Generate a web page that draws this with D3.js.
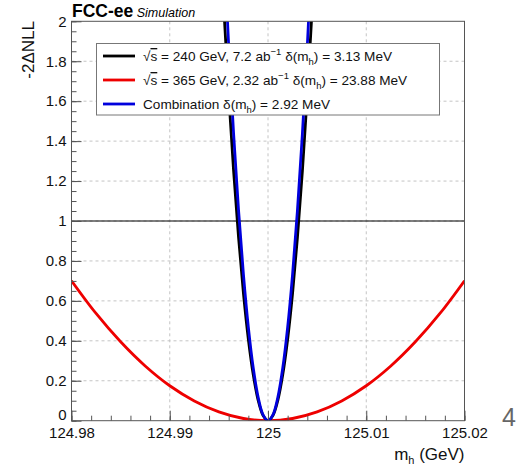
<!DOCTYPE html>
<html>
<head>
<meta charset="utf-8">
<script src="https://cdn.jsdelivr.net/npm/d3@7"></script>
<style>
  html, body { margin: 0; padding: 0; background: #fff; }
  svg { display: block; font-family: "Liberation Sans", Arial, Helvetica, sans-serif; }
</style>
</head>
<body>
<svg id="chart" width="522" height="468"></svg>
<script>
// ---------- data ----------
const xTickLabels = ["124.98", "124.99", "125", "125.01", "125.02"];
const xTicks = [124.98, 124.99, 125.00, 125.01, 125.02];
const yTicks = [0, 0.2, 0.4, 0.6, 0.8, 1, 1.2, 1.4, 1.6, 1.8, 2];
const yTickLabels = ["0", "0.2", "0.4", "0.6", "0.8", "1", "1.2", "1.4", "1.6", "1.8", "2"];

// sqrt(s) = 365 GeV (red)
const redX = [124.98, 124.9825, 124.985, 124.9875, 124.99, 124.9925, 124.995, 124.9975, 125.0,
              125.0025, 125.005, 125.0075, 125.01, 125.0125, 125.015, 125.0175, 125.02];
const redY = [0.701, 0.537, 0.395, 0.274, 0.175, 0.099, 0.044, 0.011, 0.0,
              0.011, 0.044, 0.099, 0.175, 0.274, 0.395, 0.537, 0.701];

// sqrt(s) = 240 GeV (black) and combination (blue)
const narrowX = [124.995, 124.9955, 124.996, 124.9965, 124.997, 124.9975, 124.998, 124.9985, 124.999, 124.9995, 125.0,
                 125.0005, 125.001, 125.0015, 125.002, 125.0025, 125.003, 125.0035, 125.004, 125.0045, 125.005];
const blackY = [2.552, 2.067, 1.633, 1.250, 0.919, 0.638, 0.408, 0.230, 0.102, 0.026, 0.0,
                0.026, 0.102, 0.230, 0.408, 0.638, 0.919, 1.250, 1.633, 2.067, 2.552];
const blueY  = [2.932, 2.375, 1.877, 1.437, 1.056, 0.733, 0.469, 0.264, 0.117, 0.029, 0.0,
                0.029, 0.117, 0.264, 0.469, 0.733, 1.056, 1.437, 1.877, 2.375, 2.932];

const seriesNames = ["240", "365", "comb"];
const seriesColors = ["#000000", "#ee0000", "#0000dd"];

// ---------- layout ----------
const svg = d3.select("#chart");
const L = 71.5, R = 464.5, T = 21.3, B = 420.7;
const x = d3.scaleLinear().domain([124.98, 125.02]).range([L, R]);
const y = d3.scaleLinear().domain([0, 2]).range([B, T]);

svg.append("defs").append("clipPath").attr("id", "clip")
  .append("rect").attr("x", L).attr("y", T).attr("width", R - L).attr("height", B - T);

// grid
const grid = svg.append("g").attr("stroke", "#c4c4c4").attr("stroke-width", 1).attr("stroke-dasharray", "3,3");
xTicks.slice(1, -1).forEach(v => {
  grid.append("line").attr("x1", x(v)).attr("x2", x(v)).attr("y1", T).attr("y2", B);
});
yTicks.slice(1, -1).forEach(v => {
  grid.append("line").attr("x1", L).attr("x2", R).attr("y1", y(v)).attr("y2", y(v));
});

// y = 1 line
svg.append("line").attr("x1", L).attr("x2", R).attr("y1", y(1)).attr("y2", y(1))
  .attr("stroke", "#000").attr("stroke-width", 1.2);

// curves
const line = d3.line().x(d => x(d[0])).y(d => y(d[1])).curve(d3.curveCatmullRom);
const curves = svg.append("g").attr("clip-path", "url(#clip)").attr("fill", "none").attr("stroke-width", 2.8);
curves.append("path").datum(redX.map((v, i) => [v, redY[i]])).attr("d", line).attr("stroke", seriesColors[1]);
curves.append("path").datum(narrowX.map((v, i) => [v, blackY[i]])).attr("d", line).attr("stroke", seriesColors[0]);
curves.append("path").datum(narrowX.map((v, i) => [v, blueY[i]])).attr("d", line).attr("stroke", seriesColors[2]);

// axes
const fmtX = d => xTickLabels[xTicks.indexOf(d)];
const fmtY = d => yTickLabels[yTicks.indexOf(d)];
const axisColor = "#555";

const xMinor = d3.range(0, 21).map(i => 124.98 + i * 0.002);
const yMinor = d3.range(0, 41).map(i => i * 0.05);

const gxMinor = svg.append("g").attr("transform", `translate(0,${B})`)
  .call(d3.axisBottom(x).tickValues(xMinor).tickSizeInner(-5).tickSizeOuter(0).tickFormat(""));
const gx = svg.append("g").attr("transform", `translate(0,${B})`)
  .call(d3.axisBottom(x).tickValues(xTicks).tickSizeInner(-10).tickSizeOuter(0).tickPadding(7).tickFormat(fmtX));
const gyMinor = svg.append("g").attr("transform", `translate(${L},0)`)
  .call(d3.axisLeft(y).tickValues(yMinor).tickSizeInner(-5).tickSizeOuter(0).tickFormat(""));
const gy = svg.append("g").attr("transform", `translate(${L},0)`)
  .call(d3.axisLeft(y).tickValues(yTicks).tickSizeInner(-10).tickSizeOuter(0).tickPadding(5).tickFormat(fmtY));

[gxMinor, gx, gyMinor, gy].forEach(g => {
  g.select(".domain").remove();
  g.selectAll(".tick line").attr("stroke", axisColor);
  g.selectAll("text").attr("font-family", "Liberation Sans, Arial, sans-serif").attr("font-size", 15).attr("fill", "#111");
});
// the "0" label sits slightly raised above the x labels
gy.selectAll(".tick").filter(d => d === 0).select("text").attr("dy", "-0.05em");

// frame
svg.append("rect").attr("x", L).attr("y", T).attr("width", R - L).attr("height", B - T)
  .attr("fill", "none").attr("stroke", axisColor).attr("stroke-width", 1);

// legend
const lg = svg.append("g");
lg.append("rect").attr("x", 96.5).attr("y", 43.5).attr("width", 343).attr("height", 71.5)
  .attr("fill", "#fff").attr("stroke", "#777").attr("stroke-width", 1);
const rowsY = [56, 80, 104];
const lineOrder = [0, 1, 2];
lineOrder.forEach((s, i) => {
  lg.append("line").attr("x1", 103).attr("x2", 135).attr("y1", rowsY[i]).attr("y2", rowsY[i])
    .attr("stroke", seriesColors[s]).attr("stroke-width", 2.8);
});
function legendText(i, parts) {
  const t = lg.append("text").attr("x", 143).attr("y", rowsY[i] + 5).attr("font-size", 13.6).attr("fill", "#111");
  parts.forEach(p => {
    const ts = t.append("tspan").text(p.t);
    if (p.sup) ts.attr("font-size", 9.5).attr("dy", -6);
    if (p.sub) ts.attr("font-size", 9.5).attr("dy", 4);
    if (p.back) ts.attr("dy", p.back);
    if (p.over) ts.attr("text-decoration", "overline");
  });
}
legendText(0, [{t: "√"}, {t: "s", over: true}, {t: " = 240 GeV, 7.2 ab"}, {t: "−1", sup: true},
               {t: " δ(m", back: 6}, {t: "h", sub: true}, {t: ") = 3.13 MeV", back: -4}]);
legendText(1, [{t: "√"}, {t: "s", over: true}, {t: " = 365 GeV, 2.32 ab"}, {t: "−1", sup: true},
               {t: " δ(m", back: 6}, {t: "h", sub: true}, {t: ") = 23.88 MeV", back: -4}]);
legendText(2, [{t: "Combination δ(m"}, {t: "h", sub: true}, {t: ") = 2.92 MeV", back: -4}]);

// titles
const title = svg.append("text").attr("x", 72).attr("y", 17).attr("fill", "#000");
title.append("tspan").text("FCC-ee").attr("font-weight", "bold").attr("font-size", 17.5);
title.append("tspan").text(" Simulation").attr("font-style", "italic").attr("font-size", 12.5);

const xt = svg.append("text").attr("x", R).attr("y", 460).attr("text-anchor", "end").attr("font-size", 17).attr("fill", "#111");
xt.append("tspan").text("m");
xt.append("tspan").text("h").attr("font-size", 11).attr("dy", 4);
xt.append("tspan").text(" (GeV)").attr("dy", -4);

svg.append("text").attr("transform", "translate(34,21) rotate(-90)").attr("text-anchor", "end")
  .attr("font-size", 17).attr("fill", "#111").text("-2ΔNLL");

// page number
svg.append("text").attr("x", 502).attr("y", 426).attr("font-size", 25).attr("fill", "#666").text("4");
</script>
</body>
</html>
